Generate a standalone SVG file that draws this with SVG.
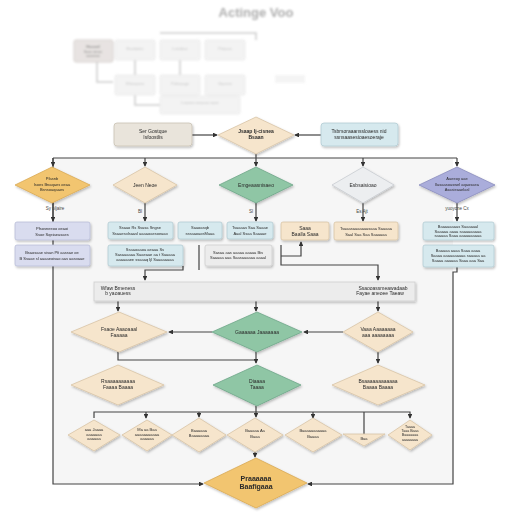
<svg xmlns="http://www.w3.org/2000/svg" width="512" height="512" viewBox="0 0 512 512">
<defs>
<marker id="ah" viewBox="0 0 6 6" refX="5" refY="3" markerWidth="4" markerHeight="4" orient="auto"><path d="M0,0 L6,3 L0,6 z" fill="#333"/></marker>
<filter id="sh" x="-10%" y="-10%" width="130%" height="140%"><feDropShadow dx="1" dy="1.5" stdDeviation="1.2" flood-color="#000" flood-opacity="0.25"/></filter>
<filter id="blur"><feGaussianBlur stdDeviation="0.8"/></filter>
</defs>
<style>
text{font-family:"Liberation Sans",Arial,sans-serif;fill:#2a2a2a;text-anchor:middle;font-size:5px}
.sm{font-size:4px}
.ln{stroke:#444;stroke-width:1.2;fill:none}
.peach{fill:#f6e5cc;stroke:#d8c4a6;stroke-width:0.8}
.orange{fill:#f2c56f;stroke:#d9a955;stroke-width:0.8}
.green{fill:#8fc6a5;stroke:#6fa689;stroke-width:0.8}
.gray{fill:#eceef0;stroke:#c8cbd0;stroke-width:0.8}
.purple{fill:#aaaddb;stroke:#8a8dbd;stroke-width:0.8}
.blue{fill:#d6e9ee;stroke:#b3ccd3;stroke-width:0.8}
.lpurple{fill:#d9dcef;stroke:#b9bcd8;stroke-width:0.8}
.beige{fill:#e9e4db;stroke:#c9c1b4;stroke-width:0.8}
.lgray{fill:#ececec;stroke:#cfcfcf;stroke-width:0.8}
.faint{fill:#ececec;stroke:#d6d6d6;stroke-width:0.8}
.lbl{font-size:4.5px;fill:#444}
</style>
<rect width="512" height="512" fill="#fff"/>
<!-- faded top -->
<g id="faded" opacity="0.6" filter="url(#blur)">
<text x="256" y="17" style="font-size:13px;font-weight:bold;fill:#777">Actinge Voo</text>
<path d="M160,33 H256 V40 M97,62 V82 H113 M135,60 V75 M180,60 V75 M135,95 V105 H160" stroke="#aaa" stroke-width="1.5" fill="none"/>
<rect x="74" y="40" width="39" height="22" rx="2" fill="#d9d2cf" stroke="#b9b0ac"/>
<text x="93" y="48" style="font-size:4px;font-weight:bold">Hazard</text>
<text x="93" y="53" style="font-size:3.5px">Saoo ioinoo</text>
<text x="93" y="57" style="font-size:3.5px">aaoonoo</text>
<rect x="115" y="40" width="40" height="20" rx="2" class="faint"/>
<rect x="160" y="40" width="40" height="20" rx="2" class="faint"/>
<rect x="205" y="40" width="40" height="20" rx="2" class="faint"/>
<rect x="115" y="75" width="40" height="20" rx="2" class="faint"/>
<rect x="160" y="75" width="40" height="20" rx="2" class="faint"/>
<rect x="205" y="75" width="40" height="20" rx="2" class="faint"/>
<rect x="160" y="96" width="80" height="18" rx="2" class="faint"/>
<text x="135" y="50" style="font-size:4px;fill:#999">Eoatiomo</text>
<text x="180" y="50" style="font-size:4px;fill:#999">Lonsbae</text>
<text x="225" y="50" style="font-size:4px;fill:#999">Prioaas</text>
<text x="135" y="85" style="font-size:4px;fill:#999">Ehesaoeo</text>
<text x="180" y="85" style="font-size:4px;fill:#999">Pohsaage</text>
<text x="225" y="85" style="font-size:4px;fill:#999">Gaosne</text>
<text x="200" y="104" style="font-size:4px;fill:#999">Loaseo aeaoao saoe</text>
<rect x="275" y="75" width="30" height="8" fill="#eee"/>
</g>
<!-- panel -->
<rect x="53" y="158" width="400" height="326" fill="#f6f6f6"/>
<!-- connectors -->
<g id="connectors" class="ln">
<path d="M192,135 H217" marker-end="url(#ah)"/>
<path d="M321,135 H295" marker-end="url(#ah)"/>
<path d="M256,154 V158"/>
<path d="M53,158 H457"/>
<path d="M53,158 V484 H203" marker-end="url(#ah)"/>
<path d="M457,158 V166" marker-end="url(#ah)"/>
<path d="M145,158 V166" marker-end="url(#ah)"/>
<path d="M256,158 V166" marker-end="url(#ah)"/>
<path d="M363,158 V166" marker-end="url(#ah)"/>
<path d="M53,158 V166" marker-end="url(#ah)"/>
<path d="M53,203 V221" marker-end="url(#ah)"/>
<path d="M145,203 V221" marker-end="url(#ah)"/>
<path d="M256,203 V221" marker-end="url(#ah)"/>
<path d="M363,203 V221" marker-end="url(#ah)"/>
<path d="M457,203 V221" marker-end="url(#ah)"/>
<path d="M183,266 V270 H145 V280" marker-end="url(#ah)"/>
<path d="M199,245 V270"/>
<path d="M281,245 V265 H378 V280" marker-end="url(#ah)"/>
<path d="M281,256 H301 V242" marker-end="url(#ah)"/>
<path d="M457,267 V272 H453 V484 H308" marker-end="url(#ah)"/>
<path d="M118,301 V311" marker-end="url(#ah)"/>
<path d="M256,301 V311" marker-end="url(#ah)"/>
<path d="M378,301 V311" marker-end="url(#ah)"/>
<path d="M212,332 H169" marker-end="url(#ah)"/>
<path d="M343,332 H304" marker-end="url(#ah)"/>
<path d="M118,352 V360 H256"/>
<path d="M256,352 V363" marker-end="url(#ah)"/>
<path d="M378,352 V363" marker-end="url(#ah)"/>
<path d="M94,418 V412 H410 V418" marker-end="url(#ah)"/>
<path d="M256,406 V412"/>
<path d="M146,412 V418" marker-end="url(#ah)"/>
<path d="M199,412 V417" marker-end="url(#ah)"/>
<path d="M256,412 V417" marker-end="url(#ah)"/>
<path d="M313,412 V418" marker-end="url(#ah)"/>
<path d="M364,412 V434"/>
<path d="M255,452 V457" marker-end="url(#ah)"/>
</g>
<!-- top row -->
<g id="n_ser" filter="url(#sh)"><rect x="114" y="123" width="78" height="23" rx="3" class="beige"/><text x="153" y="133">Ser Gostque</text><text x="153" y="139">Isfoostlis</text></g>
<g id="n_top" filter="url(#sh)"><polygon points="256,117 294,135 256,154 218,135" class="peach"/><text x="256" y="133" style="font-weight:bold">Jsaap Ij-cisnea</text><text x="256" y="139" style="font-weight:bold">Bsaan</text></g>
<g id="n_tr" filter="url(#sh)"><rect x="321" y="123" width="77" height="23" rx="3" class="blue"/><text x="359" y="133">Tsbrsoraaanssloaess nid</text><text x="359" y="139">ssnsaasesioaesoeraje</text></g>
<!-- row diamonds -->
<g id="d_a" filter="url(#sh)"><polygon points="52,167 90,185 52,203 15,185" class="orange"/><text class="sm" x="52" y="180">Pfasnb</text><text class="sm" x="52" y="185.5">Isoes Bnaqaes oeaa</text><text class="sm" x="52" y="191">Bsnsoaqaaes</text></g>
<g id="d_b" filter="url(#sh)"><polygon points="145,167 177,185 145,203 113,185" class="peach"/><text x="145" y="187">Jeen Neoe</text></g>
<g id="d_c" filter="url(#sh)"><polygon points="256,167 293,185 256,203 219,185" class="green"/><text x="256" y="187">Emgeaasnisaeo</text></g>
<g id="d_d" filter="url(#sh)"><polygon points="363,167 394,185 363,203 332,185" class="gray"/><text x="363" y="187">Esbsaisioao</text></g>
<g id="d_e" filter="url(#sh)"><polygon points="457,167 495,185 457,203 419,185" class="purple"/><text class="sm" x="457" y="180">Aaeeoy aae</text><text class="sm" x="457" y="185.5">Ilasaasoaswel aqaosaea</text><text class="sm" x="457" y="191">Asasieaaelasl</text></g>
<text class="lbl" x="55" y="210">Sy oljaire</text>
<text class="lbl" x="140" y="213">Bl</text>
<text class="lbl" x="251" y="213">Sl</text>
<text class="lbl" x="362" y="213">Es  Ajt</text>
<text class="lbl" x="457" y="210">yuoycne Cx</text>
<!-- boxes row -->
<g id="b1" filter="url(#sh)"><rect x="15" y="222" width="75" height="18" rx="2" class="lpurple"/><text class="sm" x="52" y="230">Pfsosneeoo  oeaoi</text><text class="sm" x="52" y="235.5">Ssoe Sqeiaeasaes</text></g>
<g id="b2" filter="url(#sh)"><rect x="15" y="245" width="75" height="21" rx="2" class="lpurple"/><text class="sm" x="52" y="254">Bsaosaae sisan  Pfi aassae oe</text><text class="sm" x="52" y="259.5">B Ssaae sl aaaaeoisao aas aasoaae</text></g>
<g id="b3" filter="url(#sh)"><rect x="108" y="222" width="65" height="17" rx="2" class="blue"/><text class="sm" x="140" y="229">Ssaao Rs Ssasa Sngse</text><text class="sm" x="140" y="234.5">Ssaaesolsaasl aaaaoaesoeaao</text></g>
<g id="b4" filter="url(#sh)"><rect x="178" y="222" width="44" height="17" rx="2" class="blue"/><text class="sm" x="200" y="229">Saaoasqb</text><text class="sm" x="200" y="234.5">sssaaoaosMaaa</text></g>
<g id="b5" filter="url(#sh)"><rect x="108" y="245" width="75" height="21" rx="2" class="blue"/><text class="sm" x="145" y="251">Ssaaoaaoa aeaaa Ss</text><text class="sm" x="145" y="256">Sasaaaaaa  Saaeaae aa t Saaaaa</text><text class="sm" x="145" y="261">aaaaaaee ssaaaq Ijl Saaaaaaaa</text></g>
<g id="b6" filter="url(#sh)"><rect x="227" y="222" width="46" height="17" rx="2" class="blue"/><text class="sm" x="250" y="229">Tsaaaas Saa  Saaae</text><text class="sm" x="250" y="234.5">Aaal Ssaa  Saaaae</text></g>
<g id="b7" filter="url(#sh)"><rect x="205" y="245" width="67" height="21" rx="2" class="lgray"/><text class="sm" x="238" y="253.5">Sasaa  aas aaaaa aaaaa Bis</text><text class="sm" x="238" y="259">Saaaaa aaa Saasaaaaaa aaaal</text></g>
<g id="b8" filter="url(#sh)"><rect x="281" y="222" width="48" height="18" rx="2" class="peach"/><text x="305" y="230">Saaa</text><text x="305" y="235.5">Baalla  Saaa</text></g>
<g id="b9" filter="url(#sh)"><rect x="334" y="222" width="64" height="18" rx="2" class="peach"/><text class="sm" x="366" y="230">Tsaaasaaaaaaasaaa  Saaaaa</text><text class="sm" x="366" y="235.5">Saal Saa Saa Saaaaaa</text></g>
<g id="b10" filter="url(#sh)"><rect x="423" y="222" width="71" height="18" rx="2" class="blue"/><text class="sm" x="458" y="228">Baaaaaaaas  Saaaaaal</text><text class="sm" x="458" y="232.5">Saaaaa aaaa  saaaaaaaaa</text><text class="sm" x="458" y="237">saaaaa  Saaa aaaaaaaaaa</text></g>
<g id="b11" filter="url(#sh)"><rect x="423" y="245" width="71" height="22" rx="2" class="blue"/><text class="sm" x="458" y="252">Baaaaa aaaa Saaa aaaa</text><text class="sm" x="458" y="257">Saaaa aaaaaaaaaa saaaaa aa</text><text class="sm" x="458" y="262">Saaaa aaaaaa Saaa  aaa Saa</text></g>
<!-- wide bar -->
<g id="bar" filter="url(#sh)"><rect x="94" y="282" width="321" height="19" class="lgray"/><text x="118" y="289.5">Wfaw Bmeness</text><text x="118" y="295">b yaoauess</text><text x="383" y="289.5">Ssaooassmeawadaab</text><text x="380" y="295">Fayae aneoee Taeaw</text></g>
<!-- row1 -->
<g id="r1a" filter="url(#sh)"><polygon points="119,312 167,332 119,352 71,332" class="peach"/><text x="119" y="331">Fsaoe Aaaoaaal</text><text x="119" y="336.5">Faaaaa</text></g>
<g id="r1b" filter="url(#sh)"><polygon points="257,312 302,332 257,352 212,332" class="green"/><text x="257" y="334">Gaaaaaa Jaaaaaaa</text></g>
<g id="r1c" filter="url(#sh)"><polygon points="378,312 413,332 378,352 343,332" class="peach"/><text x="378" y="331">Vaaa Aaaaaaaa</text><text x="378" y="336.5">aaa aaaaaaaa</text></g>
<!-- row2 -->
<g id="r2a" filter="url(#sh)"><polygon points="118,365 164,385 118,405 71,385" class="peach"/><text x="118" y="383">Rsaaaaaaaaaa</text><text x="118" y="388.5">Faaaa Baaaa</text></g>
<g id="r2b" filter="url(#sh)"><polygon points="257,365 301,385 257,406 213,385" class="green"/><text x="257" y="383">Diaaaa</text><text x="257" y="388.5">Taaaa</text></g>
<g id="r2c" filter="url(#sh)"><polygon points="378,365 425,385 378,405 332,385" class="peach"/><text x="378" y="383">Bsaaaaaaaaaaaa</text><text x="378" y="388.5">Baaaa Baaaa</text></g>
<!-- row3 -->
<g id="r3a" filter="url(#sh)"><polygon points="94,420 120,435 94,451 68,435" class="peach"/><text class="sm" x="94" y="431">aaa Jaaaa</text><text class="sm" x="94" y="435.5">aaaaaaa</text><text class="sm" x="94" y="440">aaaaaa</text></g>
<g id="r3b" filter="url(#sh)"><polygon points="147,420 172,435 147,451 122,435" class="peach"/><text class="sm" x="147" y="431">Ma  aa  Baa</text><text class="sm" x="147" y="435.5">aaaaaaaaaaa</text><text class="sm" x="147" y="440">aaaaaa</text></g>
<g id="r3c" filter="url(#sh)"><polygon points="199,418 226,435 199,452 172,435" class="peach"/><text class="sm" x="199" y="432">Baaaaaa</text><text class="sm" x="199" y="437">Baaaaaaaa</text></g>
<g id="r3d" filter="url(#sh)"><polygon points="255,418 283,435 255,452 227,435" class="peach"/><text class="sm" x="255" y="432">Baaaaa Aa</text><text class="sm" x="255" y="437.5">Baaa</text></g>
<g id="r3e" filter="url(#sh)"><polygon points="313,418 342,435 313,452 285,435" class="peach"/><text class="sm" x="313" y="432">Baaaaaaaaaaa</text><text class="sm" x="313" y="437.5">Baaaa</text></g>
<g id="r3f" filter="url(#sh)"><polygon points="343,434 385,434 364,446" class="peach"/><text class="sm" x="364" y="439.5">Baa</text></g>
<g id="r3g" filter="url(#sh)"><polygon points="410,420 432,435 410,450 388,435" class="peach"/><text x="410" y="428" style="font-size:3.6px">Taaaa</text><text x="410" y="432" style="font-size:3.6px">Taaa Baaa</text><text x="410" y="436" style="font-size:3.6px">Baaaaaaa</text><text x="410" y="440.5" style="font-size:3.6px">aaaaaaaa</text></g>
<!-- final -->
<g id="final" filter="url(#sh)"><polygon points="256,458 307,483 256,508 204,483" class="orange"/><text x="256" y="481" style="font-size:7px;font-weight:bold">Praaaaaa</text><text x="256" y="489" style="font-size:7px;font-weight:bold">Baafigaaa</text></g>
</svg>
